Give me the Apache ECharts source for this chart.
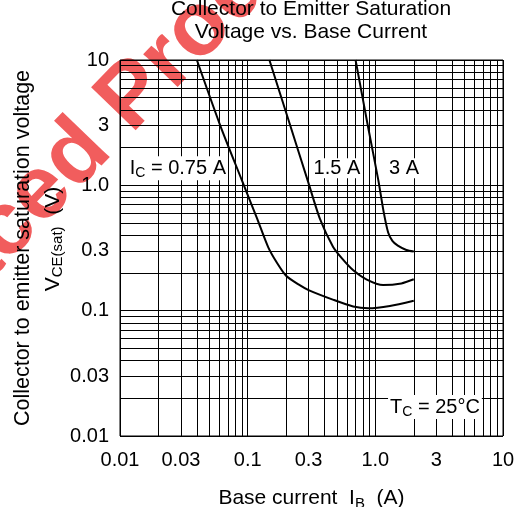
<!DOCTYPE html>
<html>
<head>
<meta charset="utf-8">
<script src="https://cdn.jsdelivr.net/npm/echarts@6/dist/echarts.min.js"></script>
<style>
  html, body { margin: 0; padding: 0; background: #fff; }
  #chart { width: 521px; height: 507px; }
</style>
</head>
<body>
<div id="chart"></div>
<script>
// I_C = 0.75 A
const ib075 = [0.040, 0.061, 0.090, 0.118, 0.145, 0.17, 0.20, 0.25, 0.30, 0.47, 0.67, 0.88, 1.3, 2.0]
const vce075 = [10, 3.0, 1.10, 0.55, 0.32, 0.24, 0.19, 0.162, 0.146, 0.122, 0.108, 0.1045, 0.109, 0.120]
// I_C = 1.5 A
const ib15 = [0.148, 0.214, 0.298, 0.369, 0.466, 0.55, 0.668, 0.85, 1.15, 1.6, 2.0]
const vce15 = [10, 3.07, 1.06, 0.537, 0.324, 0.26, 0.211, 0.178, 0.160, 0.165, 0.178]
// I_C = 3 A
const ib3 = [0.70, 0.873, 1.055, 1.16, 1.26, 1.36, 1.5, 1.75, 2.0]
const vce3 = [10, 3.0, 1.10, 0.62, 0.42, 0.36, 0.33, 0.305, 0.296]

const xTickValues = [0.01, 0.03, 0.1, 0.3, 1, 3, 10]
const xTickLabels = ['0.01', '0.03', '0.1', '0.3', '1.0', '3', '10']
const yTickValues = [0.01, 0.03, 0.1, 0.3, 1, 3, 10]
const yTickLabels = ['0.01', '0.03', '0.1', '0.3', '1.0', '3', '10']

// annotations inside the plot
const noteX = [0.0284, 0.50, 1.68, 2.93]
const noteY = [1.37, 1.37, 1.37, 0.0170]
const noteText = ['{t|I}{s|C}{t| = 0.75 A}', '{t|1.5 A}', '{t|3 A}', '{t|T}{s|C}{t| = 25°C}']

// grid lines at 1..9 of every decade
const gridValues = []
for (const d of [0.01, 0.1, 1]) {
  for (let k = 1; k < 10; k++) gridValues.push(+(d * k).toPrecision(3))
}
gridValues.push(10)

const FONT = 'Liberation Sans, Arial, sans-serif'
const subRich = {
  t: { fontSize: 20, fontFamily: FONT, color: '#000' },
  s: { fontSize: 14, fontFamily: FONT, color: '#000', padding: [10, 0, 0, 0] }
}
const nameRich = {
  t: { fontSize: 21, fontFamily: FONT, color: '#000' },
  s: { fontSize: 15, fontFamily: FONT, color: '#000', padding: [10, 0, 0, 0] },
  sp: { width: 18 }
}

function fmt (values, labels) {
  return function (val) {
    const i = values.findIndex(v => Math.abs(v - val) / v < 1e-6)
    return i >= 0 ? labels[i] : ''
  }
}

function curve (xs, ys) {
  return {
    type: 'line',
    data: xs.map((x, i) => [x, ys[i]]),
    smooth: 0.25,
    showSymbol: false,
    silent: true,
    lineStyle: { color: '#000', width: 2 },
    z: 3
  }
}

const chart = echarts.init(document.getElementById('chart'))
const option = {
  animation: false,
  title: {
    text: 'Collector to Emitter Saturation\nVoltage vs. Base Current',
    left: 311,
    top: -2,
    padding: 0,
    textAlign: 'center',
    textStyle: { fontSize: 21, lineHeight: 23, fontWeight: 'normal', color: '#000', fontFamily: FONT }
  },
  graphic: {
    z: -10,
    elements: [{
      type: 'text',
      x: 84,
      y: 148,
      rotation: 46 * Math.PI / 180,
      silent: true,
      z: -10,
      style: {
        text: 'Replaced Product',
        fontSize: 90,
        fontWeight: 'bold',
        fontFamily: FONT,
        fill: '#f15d5d',
        align: 'center',
        verticalAlign: 'middle'
      }
    }]
  },
  grid: {
    left: 120,
    right: 18,
    top: 60,
    bottom: 71,
    outerBoundsMode: 'none',
    show: true,
    borderColor: '#000',
    borderWidth: 1,
    backgroundColor: 'transparent'
  },
  xAxis: {
    type: 'log',
    logBase: 10,
    min: 0.01,
    max: 10,
    name: 'Base current  {t|I}{s|B}{t|  (A)}',
    nameLocation: 'middle',
    nameGap: 50,
    nameMoveOverlap: false,
    nameTextStyle: { fontSize: 21, color: '#000', fontFamily: FONT, rich: nameRich },
    axisLine: { show: false },
    axisTick: { show: false, customValues: gridValues },
    axisLabel: {
      customValues: xTickValues,
      formatter: fmt(xTickValues, xTickLabels),
      margin: 14,
      fontSize: 20,
      color: '#000',
      fontFamily: FONT
    },
    splitLine: { show: true, lineStyle: { color: '#000', width: 1 } }
  },
  yAxis: {
    type: 'log',
    logBase: 10,
    min: 0.01,
    max: 10,
    name: 'Collector to emitter saturation voltage\n{sp|}{t|V}{s|CE(sat)}{t|  (V)}',
    nameLocation: 'middle',
    nameRotate: 90,
    nameGap: 52,
    nameMoveOverlap: false,
    nameTextStyle: { fontSize: 21.5, lineHeight: 30, color: '#000', fontFamily: FONT, rich: nameRich },
    axisLine: { show: false },
    axisTick: { show: false, customValues: gridValues },
    axisLabel: {
      customValues: yTickValues,
      formatter: fmt(yTickValues, yTickLabels),
      margin: 11,
      fontSize: 20,
      color: '#000',
      fontFamily: FONT
    },
    splitLine: { show: true, lineStyle: { color: '#000', width: 1 } }
  },
  series: [
    curve(ib075, vce075),
    curve(ib15, vce15),
    curve(ib3, vce3),
    {
      type: 'scatter',
      silent: true,
      symbolSize: 1,
      itemStyle: { color: 'transparent', opacity: 1 },
      z: 4,
      data: noteX.map((x, i) => ({
        value: [x, noteY[i]],
        label: { formatter: noteText[i] }
      })),
      label: {
        show: true,
        position: 'inside',
        backgroundColor: '#fff',
        padding: [0, 2],
        rich: subRich
      }
    }
  ]
}
chart.setOption(option)
</script>
</body>
</html>
